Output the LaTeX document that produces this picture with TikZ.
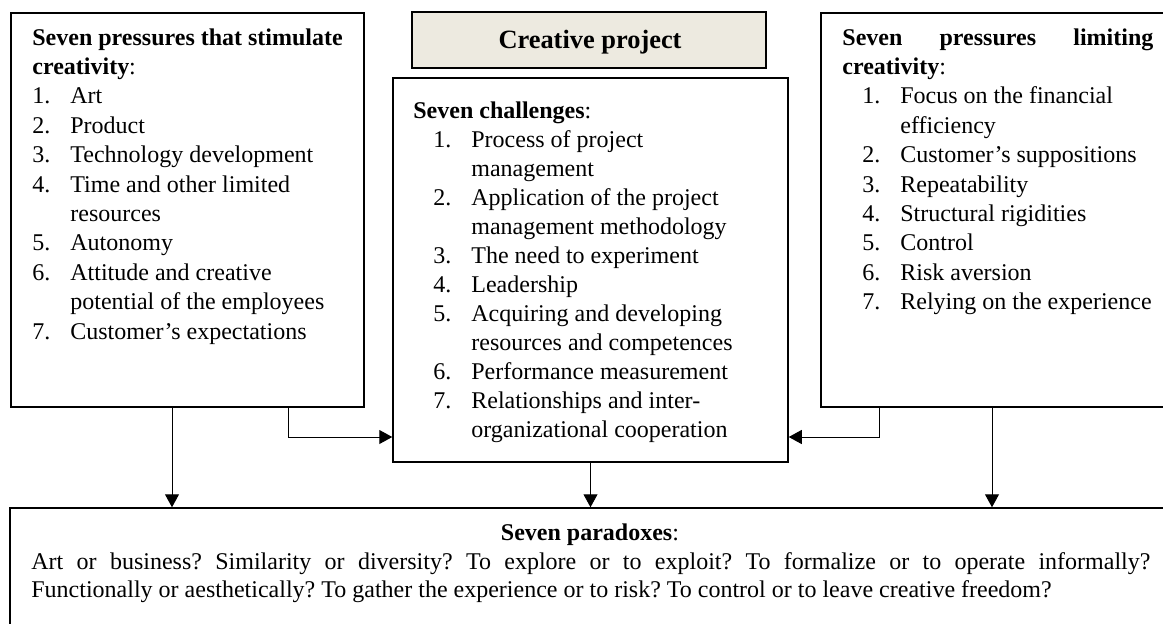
\documentclass[tikz,border=0pt]{standalone}
\usepackage{fontspec}
\setmainfont{Liberation Serif}
\usetikzlibrary{fit,arrows.meta}
\definecolor{titlefill}{RGB}{237,234,224}
% list helpers: number column and hanging indent
\newcommand\enumno[1]{\makebox[19pt][l]{#1}}
\newcommand\enumgap{\hspace*{19pt}}
\newcommand\listind{\hspace*{10pt}}
\frenchspacing

\begin{document}
\begin{tikzpicture}[x=0.5pt,y=-0.5pt,
  box/.style={draw=black, line width=0.75pt, inner sep=0pt, fill=white},
  titlebox/.style={box, fill=titlefill},
  txt/.style={inner sep=0pt, anchor=base west, font=\fontsize{12}{14.7}\selectfont},
  conn/.style={draw=black, line width=0.5pt, -{Triangle[length=6.5pt,width=7pt]}}]

\clip (0,0) rectangle (1163,623);
\fill[white] (0,0) rectangle (1163,623);

% boxes
\node[box, fit={(11,13) (364,407)}] (left) {};
\node[titlebox, fit={(412,12) (766,68)}] (title) {};
\node[box, fit={(393,78) (788,462)}] (center) {};
\node[box, fit={(821,13) (1178,407)}] (right) {};
\node[box, fit={(10,508) (1172,660)}] (bottom) {};

% texts
\node[anchor=base, inner sep=0pt, font=\fontsize{13.2}{16}\selectfont\bfseries] (titletext) at (590,48) {Creative project};

\node[txt] (lefttext) at (32,45) {\parbox[t]{170pt}{%
\textbf{Seven pressures that stimulate}\\
\textbf{creativity}:\\
\enumno{1.}Art\\
\enumno{2.}Product\\
\enumno{3.}Technology development\\
\enumno{4.}Time and other limited\\
\enumgap resources\\
\enumno{5.}Autonomy\\
\enumno{6.}Attitude and creative\\
\enumgap potential of the employees\\
\enumno{7.}Customer’s expectations}};

\node[txt, font=\fontsize{12}{14.5}\selectfont] (centertext) at (413,118) {\parbox[t]{190pt}{%
\textbf{Seven challenges}:\\
\listind\enumno{1.}Process of project\\
\listind\enumgap management\\
\listind\enumno{2.}Application of the project\\
\listind\enumgap management methodology\\
\listind\enumno{3.}The need to experiment\\
\listind\enumno{4.}Leadership\\
\listind\enumno{5.}Acquiring and developing\\
\listind\enumgap resources and competences\\
\listind\enumno{6.}Performance measurement\\
\listind\enumno{7.}Relationships and inter-\\
\listind\enumgap organizational cooperation}};

\node[txt] (righttext) at (842,45) {\parbox[t]{170pt}{%
\makebox[155.5pt][s]{\textbf{Seven pressures limiting}}\\
\textbf{creativity}:\\
\listind\enumno{1.}Focus on the financial\\
\listind\enumgap efficiency\\
\listind\enumno{2.}Customer’s suppositions\\
\listind\enumno{3.}Repeatability\\
\listind\enumno{4.}Structural rigidities\\
\listind\enumno{5.}Control\\
\listind\enumno{6.}Risk aversion\\
\listind\enumno{7.}Relying on the experience}};

\node[anchor=base, inner sep=0pt, font=\fontsize{12}{14.25}\selectfont] (bottomhead) at (590,540) {\textbf{Seven paradoxes}:};
\node[txt, font=\fontsize{12}{14.25}\selectfont] (bottomtext) at (31,569) {\parbox[t]{600pt}{%
\makebox[559.5pt][s]{Art or business? Similarity or diversity? To explore or to exploit? To formalize or to operate informally?}\\
Functionally or aesthetically? To gather the experience or to risk? To control or to leave creative freedom?}};

% connectors
\coordinate (xa) at (172,0);
\coordinate (xb) at (288,0);
\coordinate (xc) at (879,0);
\coordinate (xd) at (992,0);
\coordinate (hy) at (0,437);

\draw[conn] (left.south -| xa) -- (bottom.north -| xa);
\draw[conn] (left.south -| xb) |- (center.west |- hy);
\draw[conn] (center.south) -- (bottom.north -| center.south);
\draw[conn] (right.south -| xc) |- (center.east |- hy);
\draw[conn] (right.south -| xd) -- (bottom.north -| xd);
\end{tikzpicture}
\end{document}
